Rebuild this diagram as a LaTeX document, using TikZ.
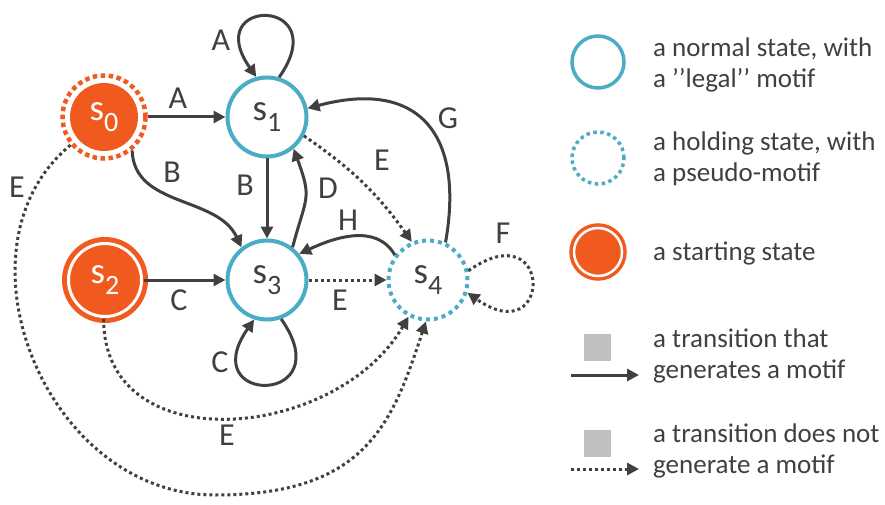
\documentclass[tikz,border=0pt]{standalone}
\usepackage{fontspec}
\setmainfont{Carlito}
\usetikzlibrary{
  arrows.meta
  , calc
}
\definecolor{stcyan}{HTML}{4BACC6}
\definecolor{storange}{HTML}{F05A1E}
\definecolor{stgray}{HTML}{404040}
\definecolor{keygray}{HTML}{BFBFBF}
\def\sname#1{s\raisebox{-11pt}{\fontsize{28}{28}\selectfont #1}}

\begin{document}
\begin{tikzpicture}[x=1pt,y=1pt]
      \tikzstyle{state}=[circle, line width=4pt, minimum size=79pt, inner sep=0pt, font=\fontsize{37}{37}\selectfont, text=stgray]
      \tikzstyle{normal state}=[state, draw=stcyan, fill=white]
      \tikzstyle{holding state}=[state, draw=stcyan, dash pattern=on 4pt off 4pt]
      \tikzstyle{start state}=[state, draw=storange, fill=storange, double=white, line width=5pt, double distance=3pt, minimum size=73pt, text=white]
      \tikzstyle{first state}=[state, draw=storange, dash pattern=on 4.5pt off 3.5pt, line width=4.5pt, minimum size=83pt, text=white,
        path picture={\fill[storange] (path picture bounding box.center) circle (34pt);}]
      \tikzstyle{trans}=[line width=3pt, draw=stgray, -{Triangle[length=12pt,width=12pt]}]
      \tikzstyle{hold trans}=[trans, dash pattern=on 3pt off 3pt]
      \tikzstyle{lbl}=[font=\fontsize{32}{32}\selectfont, text=stgray]
      \tikzstyle{key}=[font=\fontsize{27}{31}\selectfont, text=stgray, align=left, anchor=base west, inner sep=0pt]

      \useasboundingbox (0,0) rectangle (885,504);

      % states
      \node [first state] (s0) at (104,387) {\sname{0}};
      \node [normal state] (s1) at (267,387) {\sname{1}};
      \node [start state] (s2) at (105,224) {\sname{2}};
      \node [normal state] (s3) at (267,224) {\sname{3}};
      \node [holding state] (s4) at (428,224) {\sname{4}};
      \coordinate (eLow) at (215,9);

      % transitions
      \draw [trans] (s0) -- (s1);
      \draw [trans] (s0.-50) to[out=-88,in=115] (s3.128);
      \draw [trans] (s1) -- (s3);
      \draw [trans] (s3.52) to[out=75,in=-70,looseness=1.4] (s1.-50);
      \draw [hold trans] (s1.-27) to[bend left=10] (s4.113);
      \draw [trans] (s4.65) to[out=80,in=15,looseness=1.5] (s1.12);
      \draw [trans] (s4.143) to[out=120,in=25] (s3.39);
      \draw [trans] (s2) -- (s3);
      \draw [hold trans] (s3) -- (s4);
      \draw [hold trans] (s2.-92) to[out=-90,in=-120,looseness=1.2] (s4.-118);
      \draw [hold trans] (s0.-140) .. controls (-53,257) and (45,9) .. (eLow) .. controls (365,9) and (392,79) .. (s4.-93);
      \draw [trans] (s1.73) to[out=55,in=125,looseness=11] (s1.105);
      \draw [trans] (s3.-70) to[out=-55,in=-125,looseness=10] (s3.-108);
      \draw [hold trans] (s4.13) to[out=35,in=-35,looseness=12] (s4.-18);

      % labels
      \node [lbl] (lA1) at (221,464) {A};
      \node [lbl] (lA2) at (178,406) {A};
      \node [lbl] (lB1) at (172,332) {B};
      \node [lbl] (lB2) at (245,319) {B};
      \node [lbl] (lD) at (328,316) {D};
      \node [lbl] (lE1) at (382,344) {E};
      \node [lbl] (lG) at (448,386) {G};
      \node [lbl] (lH) at (348,284) {H};
      \node [lbl] (lF) at (503,271) {F};
      \node [lbl] (lE2) at (340,204) {E};
      \node [lbl] (lC1) at (179,204) {C};
      \node [lbl] (lC2) at (220,142) {C};
      \node [lbl] (lE3) at (227,69) {E};
      \node [lbl] (lE4) at (17,317) {E};

      % legend
      \node [normal state, minimum size=52pt, line width=3.5pt] (k1) at (598,442) {};
      \node [holding state, minimum size=52pt, line width=3.5pt, dash pattern=on 3.5pt off 3.5pt] (k2) at (598,346) {};
      \node [start state, minimum size=48pt, line width=3.5pt, double distance=2.5pt] (k3) at (598,252) {};
      \node [fill=keygray, minimum size=27pt, inner sep=0pt] (sq1) at (597,157) {};
      \node [fill=keygray, minimum size=27pt, inner sep=0pt] (sq2) at (597,61) {};
      \coordinate (ka1) at (571,129);
      \coordinate (kb1) at (639,129);
      \coordinate (ka2) at (571,35);
      \coordinate (kb2) at (639,35);
      \draw [trans] (ka1) -- (kb1);
      \draw [hold trans] (ka2) -- (kb2);

      \node [key] (t1) at (653,416) {a normal state, with\\a {'}{'}legal{'}{'} motif};
      \node [key] (t2) at (653,322) {a holding state, with\\a pseudo-motif};
      \node [key] (t3) at (653,244) {a starting state};
      \node [key] (t4) at (653,126) {a transition that\\generates a motif};
      \node [key] (t5) at (653,31) {a transition does not\\generate a motif};

    \end{tikzpicture}
\end{document}
